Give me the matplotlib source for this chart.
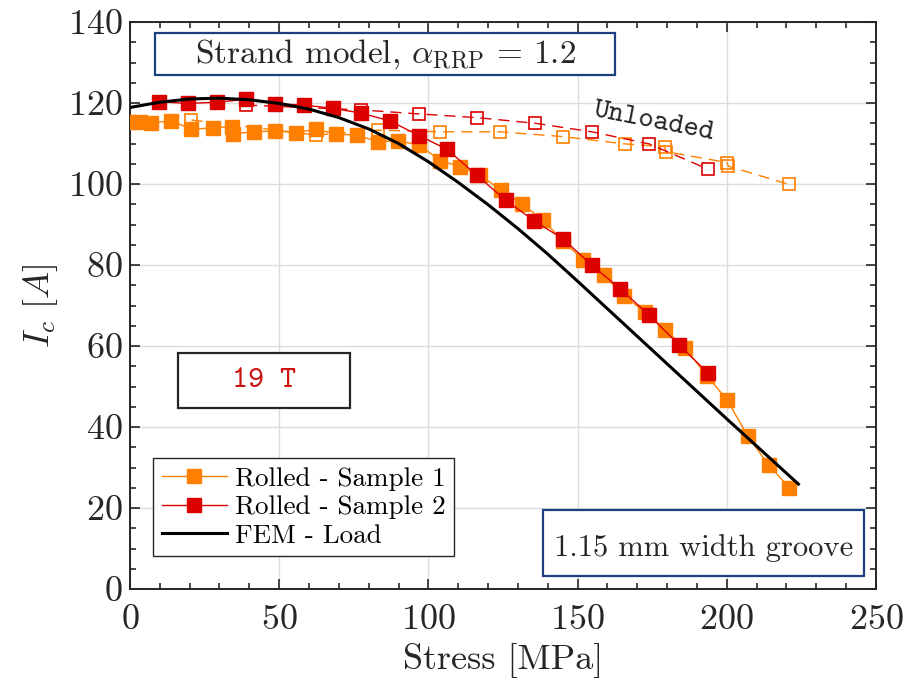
import matplotlib
matplotlib.use("Agg")
import matplotlib.pyplot as plt
from matplotlib.patches import Rectangle

# === 1. Data ===
# Rolled - Sample 1, loaded
s1_stress = [0, 3.4, 6.9, 13.9, 20.6, 27.9, 34.3, 34.6, 41.6, 48.6, 55.5, 62.5, 69.2, 76.1,
             83.2, 89.9, 97.0, 103.9, 110.6, 117.3, 124.5, 131.4, 138.3, 145.2, 151.9,
             158.9, 165.6, 172.6, 179.2, 186.0, 193.4, 200.1, 207.0, 214.0, 221.0]
s1_ic = [115.4, 115.2, 115.1, 115.6, 113.5, 113.9, 114.2, 112.4, 112.9, 113.1, 112.7, 113.5,
         112.3, 112.1, 110.4, 110.7, 109.6, 105.8, 104.3, 102.2, 98.4, 95.0, 91.2, 85.9,
         81.2, 77.5, 72.3, 68.4, 64.0, 59.5, 52.6, 46.7, 37.8, 30.6, 25.0]

# Rolled - Sample 1, unloaded
s1u_stress = [20.6, 62.5, 83.2, 103.9, 124.0, 145.2, 165.9, 179.2, 179.6, 200.1, 200.5, 220.9]
s1u_ic = [115.8, 112.1, 113.3, 112.9, 112.9, 111.7, 109.9, 109.2, 108.0, 105.3, 104.4, 99.9]

# Rolled - Sample 2, loaded
s2_stress = [9.8, 19.5, 29.2, 38.9, 48.6, 58.3, 67.9, 77.5, 87.1, 97.0, 106.2, 116.2,
             125.9, 135.5, 145.2, 154.7, 164.2, 174.0, 184.0, 193.6]
s2_ic = [120.3, 119.9, 120.2, 120.9, 119.8, 119.5, 118.7, 117.5, 115.6, 111.9, 108.6, 102.2,
         96.0, 90.9, 86.4, 80.0, 74.2, 67.6, 60.3, 53.4]

# Rolled - Sample 2, unloaded
s2u_stress = [38.9, 77.5, 97.0, 116.2, 135.8, 154.7, 174.0, 193.6]
s2u_ic = [119.5, 118.3, 117.3, 116.4, 115.0, 112.9, 109.9, 103.7]

# FEM - Load
fem_stress = [0, 10, 20, 30, 40, 50, 60, 70, 80, 90, 100, 110, 120, 130, 140, 150,
              160, 170, 180, 190, 200, 210, 224]
fem_ic = [118.9, 120.2, 121.0, 121.2, 120.8, 119.9, 118.5, 116.4, 113.6, 110.0, 105.5,
          100.4, 94.9, 89.0, 82.7, 76.0, 69.2, 62.4, 55.6, 48.8, 42.0, 35.3, 25.9]

ORANGE = "#ff8000"
RED = "#dd0000"
NAVY = "#1b3f80"
DARK = "#262626"

# === 2. Style ===
plt.rcParams["font.family"] = ["cmr10", "DejaVu Serif"]
plt.rcParams["mathtext.fontset"] = "cm"
plt.rcParams["axes.formatter.use_mathtext"] = True

fig = plt.figure(figsize=(9.07, 6.86), dpi=100)
ax = fig.add_axes([0.1433, 0.1414, 0.8225, 0.8265])

# === 3. Plot ===
ax.plot(s1u_stress, s1u_ic, color=ORANGE, lw=1.0, dashes=(8, 5), marker="s",
        markersize=8.5, markerfacecolor="none", markeredgecolor=ORANGE, markeredgewidth=1.2,
        zorder=3)
ax.plot(s2u_stress, s2u_ic, color=RED, lw=1.0, dashes=(8, 5), marker="s",
        markersize=8.5, markerfacecolor="none", markeredgecolor=RED, markeredgewidth=1.2,
        zorder=3)
ax.plot(s1_stress, s1_ic, color=ORANGE, lw=1.0, marker="s", markersize=9.5,
        markerfacecolor=ORANGE, markeredgecolor=ORANGE, label="Rolled - Sample 1", zorder=4)
ax.plot(s2_stress, s2_ic, color=RED, lw=1.0, marker="s", markersize=9.5,
        markerfacecolor=RED, markeredgecolor=RED, label="Rolled - Sample 2", zorder=5)
ax.plot(fem_stress, fem_ic, color="black", lw=2.2, label="FEM - Load", zorder=6)

# === 4. Format ===
ax.set_xlim(0, 250)
ax.set_ylim(0, 140)
ax.set_xticks(range(0, 251, 50))
ax.set_yticks(range(0, 141, 20))
ax.set_xticks(range(0, 251, 10), minor=True)
ax.set_yticks(range(0, 141, 5), minor=True)
ax.tick_params(which="both", direction="in", top=True, right=True, labelsize=26,
               colors=DARK, width=1.2)
ax.tick_params(which="major", length=7, pad=5)
ax.tick_params(which="minor", length=4)
ax.tick_params(axis="x", which="major", pad=11)
for sp in ax.spines.values():
    sp.set_color(DARK)
    sp.set_linewidth(1.4)
ax.grid(True, which="major", color="#dcdcdc", lw=1.0)
ax.set_axisbelow(True)

ax.set_xlabel("Stress [MPa]", fontsize=26, color=DARK, labelpad=5)
ax.set_ylabel(r"$I_c\ [A]$", fontsize=26, color=DARK, labelpad=6)

leg = ax.legend(loc="upper left", bbox_to_anchor=(0.0308, 0.231), borderaxespad=0,
                fontsize=19.5, fancybox=False, edgecolor=DARK, framealpha=1,
                handlelength=2.4, borderpad=0.32, labelspacing=0.17, handletextpad=0.3)
leg.get_frame().set_linewidth(1.0)

# annotation boxes
ax.add_patch(Rectangle((0.0335, 0.9065), 0.6165, 0.0741, transform=ax.transAxes,
                       facecolor="white", edgecolor=NAVY, lw=1.6, zorder=7))
ax.text(0.342, 0.9436, r"Strand model, $\alpha_{\mathrm{RRP}}$ = 1.2", transform=ax.transAxes,
        fontsize=24, ha="center", va="center", color=DARK, zorder=8)

ax.add_patch(Rectangle((0.0643, 0.3192), 0.2306, 0.097, transform=ax.transAxes,
                       facecolor="white", edgecolor=DARK, lw=1.6, zorder=7))
ax.text(0.1796, 0.3677, "19 T", transform=ax.transAxes, fontsize=22, family="cmtt10",
        ha="center", va="center", color="#cc1111", zorder=8)

ax.add_patch(Rectangle((0.5536, 0.0229), 0.4303, 0.1164, transform=ax.transAxes,
                       facecolor="white", edgecolor=NAVY, lw=1.6, zorder=7))
ax.text(0.7688, 0.0723, "1.15 mm width groove", transform=ax.transAxes, fontsize=22,
        ha="center", va="center", color=DARK, zorder=8)

ax.text(175.6, 115.3, "Unloaded", fontsize=21, family="cmtt10", rotation=-11,
        ha="center", va="center", color=DARK, zorder=8)

plt.savefig("out.png", dpi=100)
